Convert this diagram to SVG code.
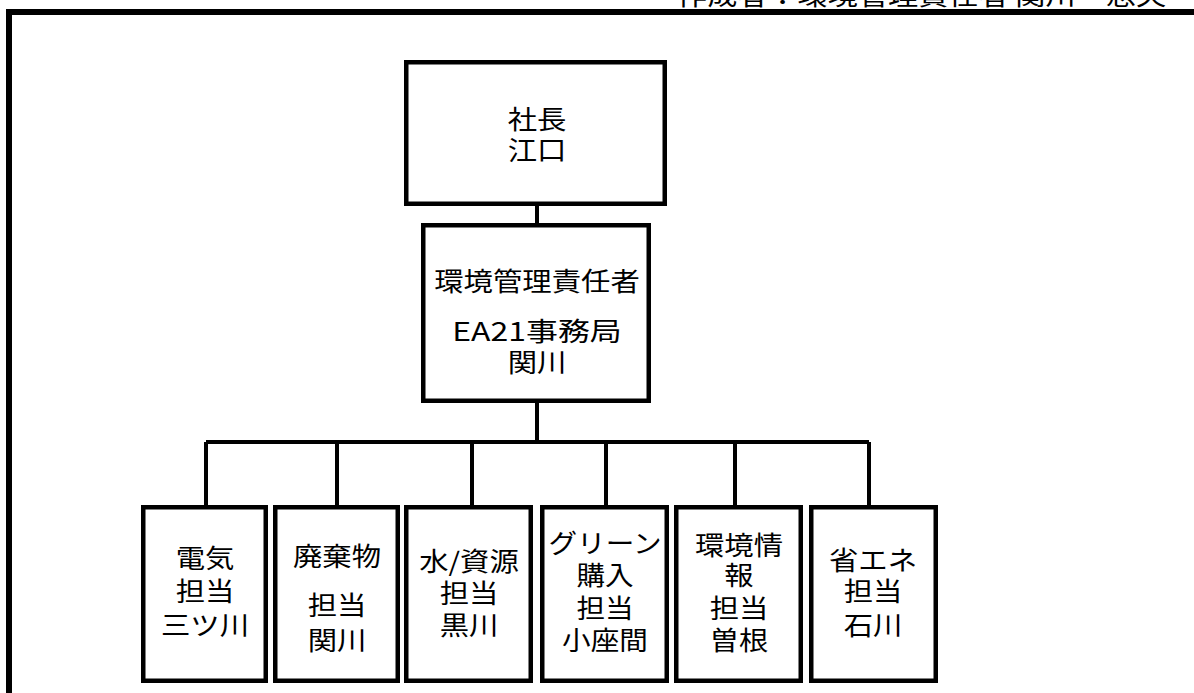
<svg xmlns="http://www.w3.org/2000/svg" width="1194" height="693" viewBox="0 0 1194 693">
<style>
.box { fill: #fff; stroke: #000; stroke-width: 4.5; }
.con { fill: none; stroke: #000; stroke-width: 4; }
.t { font-family: "Noto Sans CJK JP", "Noto Sans", sans-serif; font-size: 26px; text-anchor: middle; fill: #000; }
.hdr { font-family: "Noto Sans CJK JP", "Noto Sans", sans-serif; font-size: 26px; fill: #000; }
</style>
<rect width="1194" height="693" fill="#fff"/>
<text class="hdr" transform="translate(677 0) scale(1.16 1)" x="0" y="5">作成者：環境管理責任者 関川　忠夫</text>
<rect x="9" y="12" width="1200" height="700" fill="none" stroke="#000" stroke-width="6"/>
<g id="connectors">
  <path class="con" d="M537 206V224M537 402V442M206 442H869M206 442V506M337 442V506M472 442V506M606 442V506M735 442V506M869 442V506"/>
</g>
<g id="president">
  <rect class="box" x="406.25" y="62.25" width="258.5" height="141.5"/>
  <text class="t" transform="translate(537 0) scale(1.13 1)"><tspan x="0" y="129">社長</tspan><tspan x="0" y="160">江口</tspan></text>
</g>
<g id="manager">
  <rect class="box" x="423.25" y="225.25" width="225.5" height="175.5"/>
  <text class="t" transform="translate(537 0) scale(1.13 1)"><tspan x="0" y="291">環境管理責任者</tspan></text>
  <text class="t" transform="translate(537 0) scale(1.13 1)" x="0" y="341" textLength="150" lengthAdjust="spacingAndGlyphs">EA21事務局</text>
  <text class="t" transform="translate(537 0) scale(1.13 1)" x="0" y="372">関川</text>
</g>
<g id="denki">
  <rect class="box" x="143.25" y="507.25" width="122.5" height="173.5"/>
  <text class="t" transform="translate(205 0) scale(1.13 1)"><tspan x="0" y="568">電気</tspan><tspan x="0" y="601">担当</tspan><tspan x="0" y="635">三ツ川</tspan></text>
</g>
<g id="haikibutsu">
  <rect class="box" x="275.25" y="507.25" width="122.5" height="173.5"/>
  <text class="t" transform="translate(337 0) scale(1.13 1)"><tspan x="0" y="566">廃棄物</tspan><tspan x="0" y="615">担当</tspan><tspan x="0" y="650">関川</tspan></text>
</g>
<g id="mizu">
  <rect class="box" x="406.25" y="507.25" width="124.5" height="173.5"/>
  <text class="t" transform="translate(469 0) scale(1.13 1)"><tspan x="0" y="571">水/資源</tspan><tspan x="0" y="603">担当</tspan><tspan x="0" y="635">黒川</tspan></text>
</g>
<g id="green">
  <rect class="box" x="542.25" y="507.25" width="124.5" height="173.5"/>
  <text class="t" transform="translate(605 0) scale(1.1 1)"><tspan x="0" y="553">グリーン</tspan><tspan x="0" y="585">購入</tspan><tspan x="0" y="618">担当</tspan><tspan x="0" y="650">小座間</tspan></text>
</g>
<g id="joho">
  <rect class="box" x="676.25" y="507.25" width="124.5" height="173.5"/>
  <text class="t" transform="translate(739 0) scale(1.13 1)"><tspan x="0" y="555">環境情</tspan><tspan x="0" y="585">報</tspan><tspan x="0" y="618">担当</tspan><tspan x="0" y="650">曽根</tspan></text>
</g>
<g id="shoene">
  <rect class="box" x="811.25" y="507.25" width="124.5" height="173.5"/>
  <text class="t" transform="translate(873 0) scale(1.13 1)"><tspan x="0" y="570">省エネ</tspan><tspan x="0" y="601">担当</tspan><tspan x="0" y="635">石川</tspan></text>
</g>
</svg>
